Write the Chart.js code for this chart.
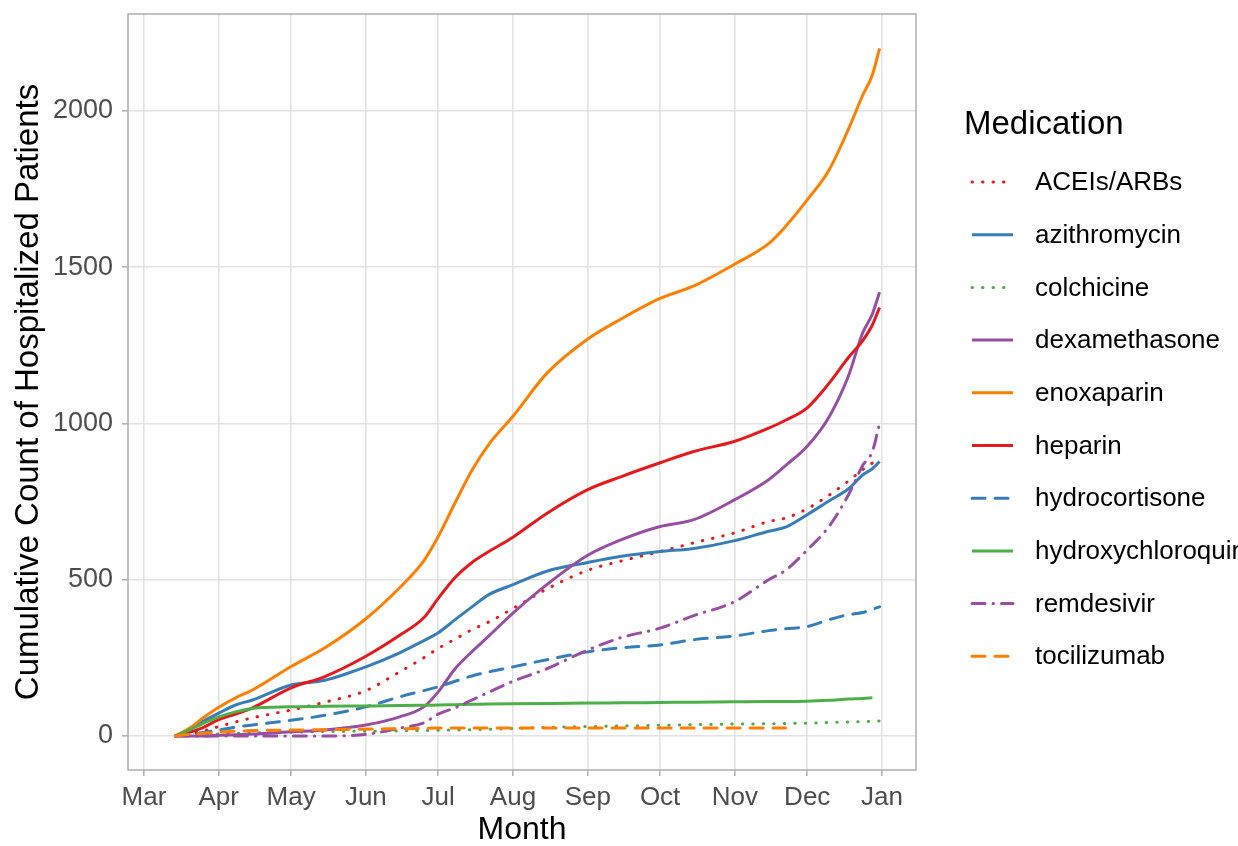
<!DOCTYPE html>
<html>
<head>
<meta charset="utf-8">
<script src="https://cdn.jsdelivr.net/npm/chart.js@4.4.1/dist/chart.umd.min.js"></script>
<style>
  html, body { margin: 0; padding: 0; background: #ffffff; }
  #wrap { width: 1238px; height: 846px; position: relative; }
</style>
</head>
<body>
<div id="wrap"><canvas id="c" width="1238" height="846"></canvas></div>
<script>
// ---- data (day-of-year in 2020, Mar 1 = 60) ----
const monthDays   = [60, 91, 121, 152, 182, 213, 244, 274, 305, 335, 366];
const monthLabels = ['Mar','Apr','May','Jun','Jul','Aug','Sep','Oct','Nov','Dec','Jan'];
const yTicks      = [0, 500, 1000, 1500, 2000];

const dayOfYear = [73,79,84,91,98,105,121,135,152,166,176,182,189,196,203,213,227,244,258,274,288,305,319,326,335,344,352,358,362,365];

const aceiArbs          = [0,8,15,30,45,58,83,108,145,205,250,280,310,340,365,408,470,530,560,590,618,650,686,697,727,770,815,852,873,880];
const azithromycin      = [0,20,45,73,99,115,163,178,221,266,305,330,372,413,452,484,527,555,575,590,600,625,655,668,708,752,790,835,855,878];
const colchicine        = [0,2,4,6,8,10,12,14,15,16,17,18,19,20,21,24,27,30,32,34,36,38,39,40,41,43,45,46,47,48];
const dexamethasone     = [0,0,0,2,4,6,13,19,35,61,93,141,215,270,320,393,484,578,628,670,692,756,820,865,927,1020,1150,1290,1350,1420];
const enoxaparin        = [0,25,55,92,122,147,222,282,375,474,560,638,746,850,933,1023,1160,1270,1335,1400,1440,1510,1575,1630,1715,1810,1940,2050,2115,2200];
const heparin           = [0,12,25,52,70,90,154,190,255,322,378,440,507,555,590,636,712,788,830,874,910,943,985,1010,1050,1128,1210,1265,1315,1371];
const hydrocortisone    = [0,5,10,19,28,35,50,66,93,125,145,157,175,192,205,221,244,269,282,291,308,320,337,343,350,372,388,395,405,413];
const hydroxychloroquine= [0,20,38,61,77,88,93,95,96,97,98,99,100,101,102,103,104,105,106,107,108,109,110,110,111,114,118,120,122,null];
const remdesivir        = [0,0,0,0,0,0,0,0,5,25,42,70,90,115,140,175,215,275,315,345,385,430,500,530,595,670,770,865,910,1000];
const tocilizumab       = [0,5,8,12,15,17,19,20,22,23,24,25,25,25,25,25,25,25,25,25,25,25,25,25,null,null,null,null,null,null];

const seriesNames = ['ACEIs/ARBs','azithromycin','colchicine','dexamethasone','enoxaparin','heparin','hydrocortisone','hydroxychloroquine','remdesivir','tocilizumab'];
const seriesData  = [aceiArbs, azithromycin, colchicine, dexamethasone, enoxaparin, heparin, hydrocortisone, hydroxychloroquine, remdesivir, tocilizumab];

// ---- styles ----
const RED = '#E41A1C', BLUE = '#377EB8', GREEN = '#4DAF4A', PURPLE = '#984EA3', ORANGE = '#FF7F00';
const seriesColors = [RED, BLUE, GREEN, PURPLE, ORANGE, RED, BLUE, GREEN, PURPLE, ORANGE];
const DOT = [0.5, 10], DASH = [13, 10], DASHDOT = [13, 8, 0.5, 8], SOLID = [];
const seriesDash = [DOT, SOLID, DOT, SOLID, SOLID, SOLID, DASH, SOLID, DASHDOT, DASH];

const FONT = '"Liberation Sans", Arial, Helvetica, sans-serif';

const datasets = seriesNames.map((name, i) => ({
  label: name,
  data: dayOfYear.map((d, k) => ({ x: d, y: seriesData[i][k] })),
  borderColor: seriesColors[i],
  backgroundColor: seriesColors[i],
  borderWidth: 3,
  borderDash: seriesDash[i],
  borderCapStyle: seriesDash[i] === SOLID ? 'butt' : 'round',
  pointRadius: 0,
  cubicInterpolationMode: 'monotone',
  fill: false,
  spanGaps: false,
  order: seriesNames.length - i
}));

const panelBorder = {
  id: 'panelBorder',
  afterDatasetsDraw(chart) {
    const { ctx, chartArea: a } = chart;
    ctx.save();
    ctx.strokeStyle = '#b3b3b3';
    ctx.lineWidth = 1.6;
    ctx.strokeRect(a.left, a.top, a.right - a.left, a.bottom - a.top);
    ctx.restore();
  }
};

const customLegend = {
  id: 'customLegend',
  afterDraw(chart) {
    const { ctx } = chart;
    ctx.save();
    ctx.fillStyle = '#000000';
    ctx.textBaseline = 'middle';
    ctx.textAlign = 'left';
    ctx.font = '33px ' + FONT;
    ctx.fillText('Medication', 964, 125);
    const y0 = 182, dy = 52.7;
    ctx.font = '26px ' + FONT;
    chart.data.datasets.forEach((ds, i) => {
      const y = y0 + i * dy;
      ctx.beginPath();
      ctx.setLineDash(ds.borderDash || []);
      ctx.lineCap = ds.borderCapStyle;
      ctx.strokeStyle = ds.borderColor;
      ctx.lineWidth = 3;
      ctx.moveTo(972, y);
      ctx.lineTo(1013, y);
      ctx.stroke();
      ctx.setLineDash([]);
      ctx.fillStyle = '#000000';
      ctx.fillText(ds.label, 1035, y + 1);
    });
    ctx.restore();
  }
};

new Chart(document.getElementById('c'), {
  type: 'line',
  data: { datasets },
  options: {
    responsive: false,
    animation: false,
    devicePixelRatio: 1,
    layout: { padding: { left: 0, top: 14, right: 322, bottom: 0 } },
    plugins: { legend: { display: false }, tooltip: { enabled: false } },
    scales: {
      x: {
        type: 'linear',
        min: 53.37,
        max: 380.1,
        afterBuildTicks: (s) => { s.ticks = monthDays.map(v => ({ value: v })); },
        afterFit: (s) => { s.height = 76; s.paddingLeft = 0; s.paddingRight = 0; },
        ticks: {
          autoSkip: false, maxRotation: 0, minRotation: 0,
          padding: 6,
          color: '#4d4d4d',
          font: { family: FONT, size: 26 },
          callback: (v) => monthLabels[monthDays.indexOf(v)]
        },
        grid: { color: '#e3e3e3', lineWidth: 1.6, tickColor: '#b3b3b3', tickLength: 6, drawTicks: true },
        border: { display: false },
        title: { display: true, text: 'Month', color: '#000000', font: { family: FONT, size: 32, lineHeight: 1 }, padding: { top: 0, bottom: 0 } }
      },
      y: {
        type: 'linear',
        min: -109,
        max: 2310,
        afterBuildTicks: (s) => { s.ticks = yTicks.map(v => ({ value: v })); },
        afterFit: (s) => { s.width = 128; s.paddingTop = 0; s.paddingBottom = 0; },
        ticks: {
          padding: 9,
          color: '#4d4d4d',
          font: { family: FONT, size: 27 },
          callback: (v) => String(v)
        },
        grid: { color: '#e3e3e3', lineWidth: 1.6, tickColor: '#b3b3b3', tickLength: 6, drawTicks: true },
        border: { display: false },
        title: { display: true, text: 'Cumulative Count of Hospitalized Patients', color: '#000000', font: { family: FONT, size: 33, lineHeight: 1 }, padding: { top: 12, bottom: 0 } }
      }
    }
  },
  plugins: [panelBorder, customLegend]
});
</script>
</body>
</html>
